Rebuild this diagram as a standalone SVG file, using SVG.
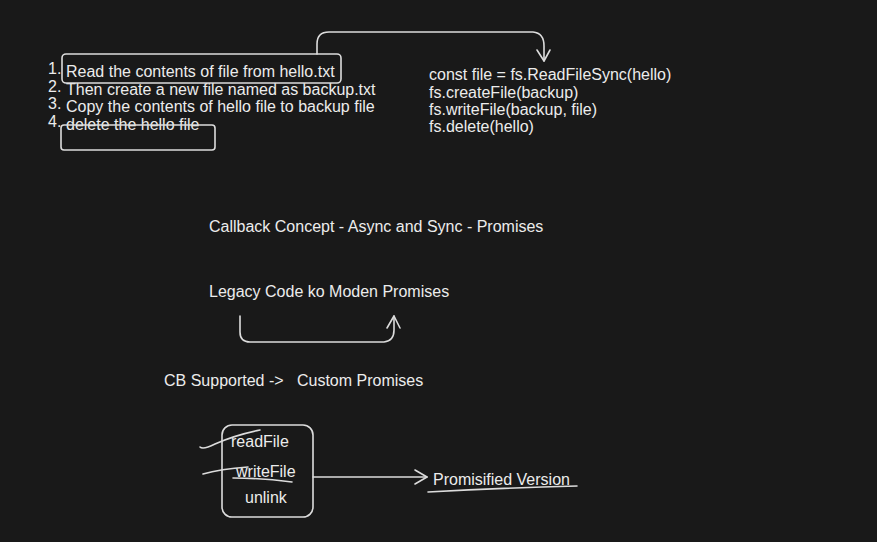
<svg xmlns="http://www.w3.org/2000/svg" width="877" height="542" viewBox="0 0 877 542">
<style>
text{font-family:"Liberation Sans",Arial,sans-serif;font-size:16px;fill:#ececec;white-space:pre}
.s{fill:none;stroke:#dcdcdc;stroke-width:1.6;stroke-linecap:round;stroke-linejoin:round}
</style>
<rect width="877" height="542" fill="#191919"/>
<g id="steps">
<text x="48" y="74">1.</text><text x="66" y="77">Read the contents of file from hello.txt</text>
<text x="48" y="91.5">2.</text><text x="66" y="94.5">Then create a new file named as backup.txt</text>
<text x="48" y="109">3.</text><text x="66" y="112">Copy the contents of hello file to backup file</text>
<text x="48" y="126.5">4.</text><text x="66" y="129.5">delete the hello file</text>
</g>
<g id="box-read"><rect class="s" x="62" y="54" width="279" height="29" rx="4"/></g>
<g id="box-delete"><rect class="s" x="61" y="125" width="154" height="25" rx="3"/></g>
<g id="code">
<text x="429" y="80">const file = fs.ReadFileSync(hello)</text>
<text x="429" y="97.5">fs.createFile(backup)</text>
<text x="429" y="115">fs.writeFile(backup, file)</text>
<text x="429" y="132">fs.delete(hello)</text>
</g>
<g id="callback"><text x="209" y="232">Callback Concept - Async and Sync - Promises</text></g>
<g id="legacy"><text x="209" y="297">Legacy Code ko Moden Promises</text></g>
<g id="cb"><text x="164" y="386">CB Supported -&gt;   Custom Promises</text></g>
<g id="fnbox">
<rect class="s" x="222" y="425" width="91" height="92" rx="10"/>
<text x="231" y="447">readFile</text>
<text x="236" y="477">writeFile</text>
<text x="245" y="503">unlink</text>
<path class="s" d="M200 447 Q203 450 215 444 Q235 435 260 430"/>
<path class="s" d="M203 474 Q220 469 248 467"/>
<path class="s" d="M233 478 Q260 478 292 482"/>
</g>
<g id="promisified">
<text x="433" y="485">Promisified Version</text>
<path class="s" d="M428 492 Q500 488 577 486"/>
</g>
<g id="connectors">
<path class="s" d="M317 54 L317 44 Q317 32 329 32 L533 32 Q544 33 544 46 L544 61"/>
<path class="s" d="M537 50 L544 61 L550 50"/>
<path class="s" d="M240 316 L240 332 Q240 342 250 342 L384 342 Q394 341 394 330 L394 316"/>
<path class="s" d="M387 328 L394 316 L400 328"/>
<path class="s" d="M313 477 L427 477"/>
<path class="s" d="M415 470 L427 477 L415 484"/>
</g>
</svg>
